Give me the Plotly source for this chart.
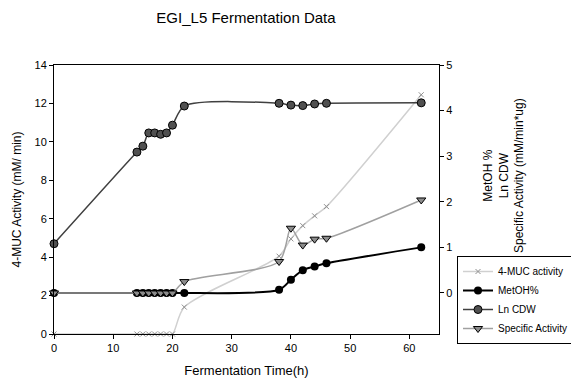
import plotly.graph_objects as go

time_h = [0, 14, 15, 16, 17, 18, 19, 20, 22, 38, 40, 42, 44, 46, 62]
muc_activity = [0, 0, 0, 0, 0, 0, 0, 0, 1.4, 4.05, 4.95, 5.64, 6.15, 6.63, 12.45]
metoh_pct = [0, 0, 0, 0, 0, 0, 0, 0, 0, 0.07, 0.29, 0.50, 0.58, 0.65, 1.0]
ln_cdw = [1.08, 3.09, 3.22, 3.51, 3.51, 3.48, 3.51, 3.68, 4.10, 4.16, 4.12, 4.11, 4.145, 4.16, 4.17]
spec_activity = [0, 0, 0, 0, 0, 0, 0, 0, 0.25, 0.69, 1.42, 1.05, 1.18, 1.20, 2.04]

FONT = "Arial, Liberation Sans, sans-serif"
L, R, T, B = 54, 439, 65, 334
W, H = 571, 379
SM = 0.8

fig = go.Figure()
fig.add_trace(go.Scatter(
    x=time_h, y=muc_activity, name="4-MUC activity", mode="lines+markers",
    line=dict(color="#d0d0d0", width=1.5, shape="spline", smoothing=SM),
    marker=dict(symbol="x-thin", size=5, color="#909090", line=dict(color="#909090", width=1)),
    cliponaxis=False, yaxis="y"))
fig.add_trace(go.Scatter(
    x=time_h, y=metoh_pct, name="MetOH%", mode="lines+markers",
    line=dict(color="#000000", width=2, shape="spline", smoothing=SM),
    marker=dict(symbol="circle", size=8, color="#000000"),
    cliponaxis=False, yaxis="y2"))
fig.add_trace(go.Scatter(
    x=time_h, y=ln_cdw, name="Ln CDW", mode="lines+markers",
    line=dict(color="#404040", width=1.5, shape="spline", smoothing=SM),
    marker=dict(symbol="circle", size=8, color="#505050", line=dict(color="#000000", width=1)),
    cliponaxis=False, yaxis="y2"))
fig.add_trace(go.Scatter(
    x=time_h, y=spec_activity, name="Specific Activity", mode="lines+markers",
    line=dict(color="#a0a0a0", width=1.5, shape="spline", smoothing=SM),
    marker=dict(symbol="triangle-down", size=8, color="#8c8c8c", line=dict(color="#000000", width=1)),
    cliponaxis=False, yaxis="y2"))

axis_common = dict(showgrid=False, zeroline=False, showline=True, linecolor="#000000",
                   linewidth=1, ticks="outside", ticklen=4, tickcolor="#000000",
                   tickfont=dict(size=11, family=FONT, color="#000000"), automargin=False)

fig.update_layout(
    width=W, height=H,
    margin=dict(l=L, r=W - R, t=T, b=H - B, autoexpand=False),
    paper_bgcolor="white", plot_bgcolor="white",
    font=dict(family=FONT, color="#000000"),
    title=dict(text="EGI_L5 Fermentation Data", x=246 / W, xanchor="center",
               y=1 - 18 / H, yanchor="middle", font=dict(size=15, family=FONT)),
    xaxis=dict(range=[0, 65], dtick=10, mirror=True,
               title=dict(text="Fermentation Time(h)", font=dict(size=13), standoff=12),
               **axis_common),
    yaxis=dict(range=[0, 14], dtick=2,
               title=dict(text="4-MUC Activity (mM/ min)", font=dict(size=12), standoff=10),
               **axis_common),
    yaxis2=dict(range=[-0.9, 5], dtick=1, overlaying="y", side="right",
                **axis_common),
    legend=dict(x=(457 - L) / (R - L), y=(B - 300) / (B - T), xanchor="left", yanchor="middle",
                bordercolor="#000000", borderwidth=1, bgcolor="white",
                font=dict(size=10, family=FONT), tracegroupgap=0,
                itemwidth=30),
    showlegend=True,
)

fig.add_annotation(
    text="MetOH %<br>Ln CDW<br>Specific Activity (mM/min*ug)",
    xref="paper", yref="paper", x=(503 - L) / (R - L), y=(B - 176) / (B - T),
    xanchor="center", yanchor="middle", textangle=-90, showarrow=False,
    font=dict(size=12, family=FONT), align="center")

fig.write_html("out.html")
